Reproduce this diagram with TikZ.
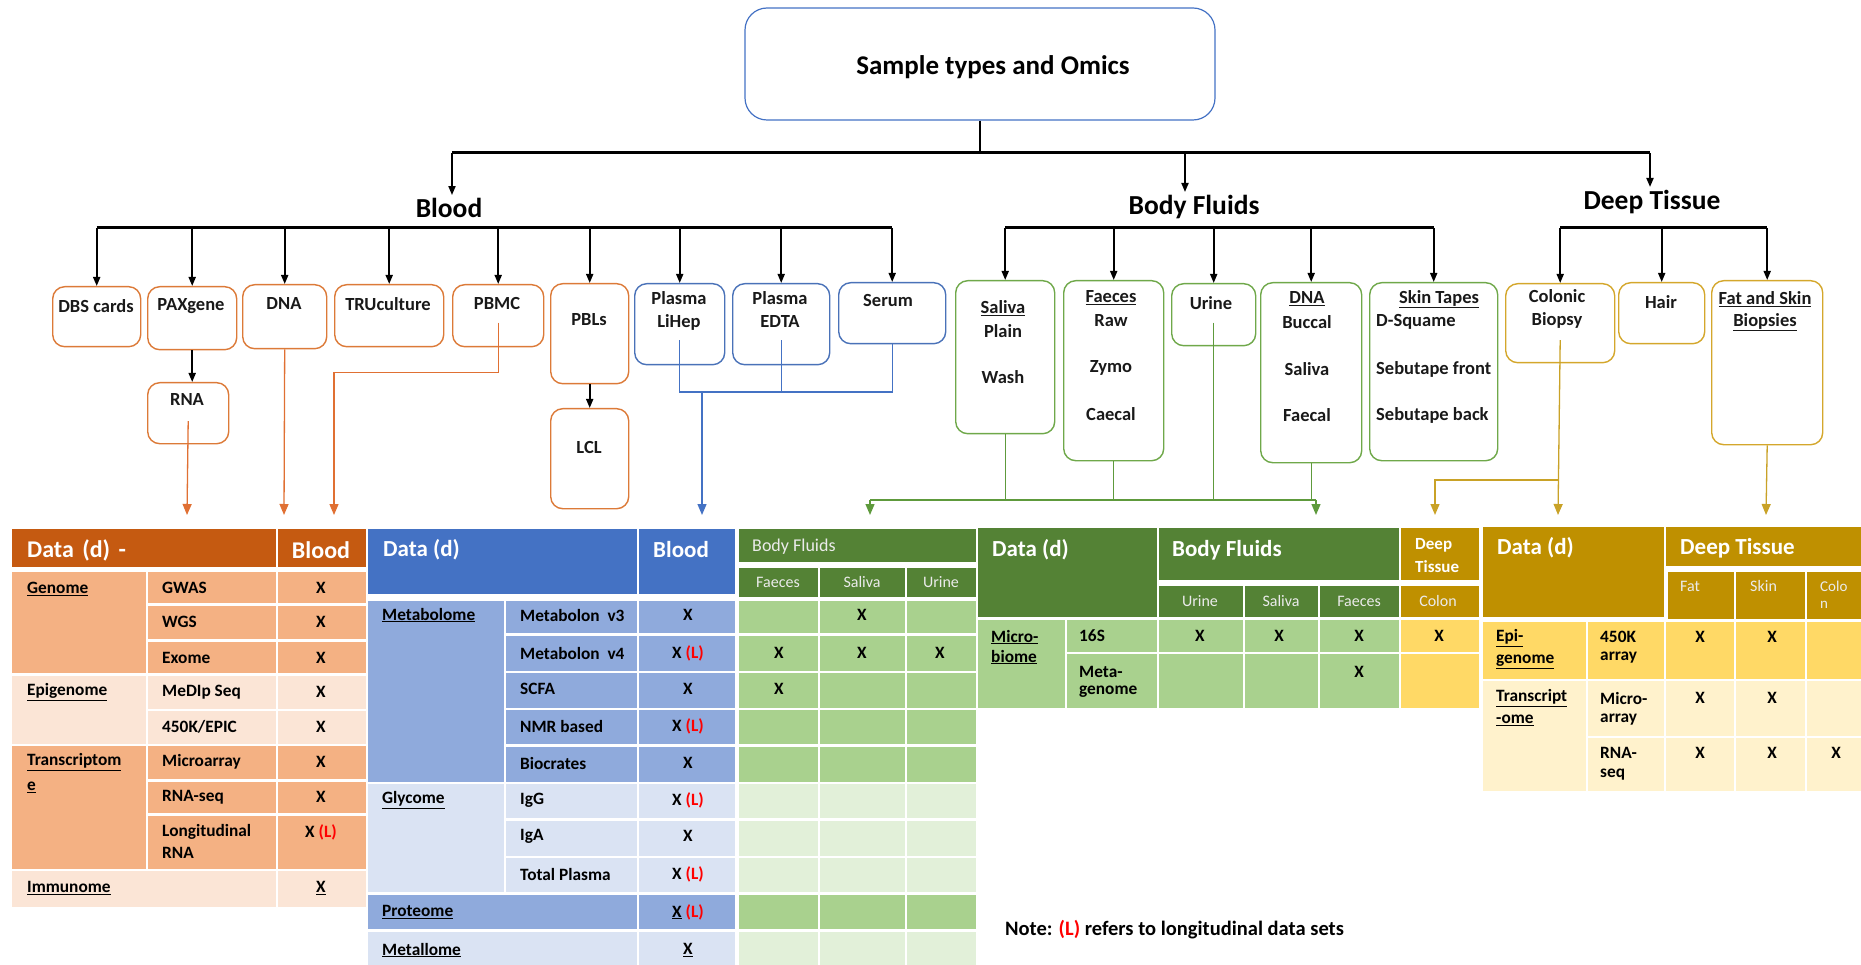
\documentclass[tikz,border=0pt]{standalone}
\usepackage{fontspec}
\setmainfont{Carlito}
\usetikzlibrary{arrows.meta}
\definecolor{cOr}{HTML}{DC7A38}
\definecolor{cOrL}{HTML}{E07033}
\definecolor{cBl}{HTML}{4A72B8}
\definecolor{cBlL}{HTML}{4472C4}
\definecolor{cGr}{HTML}{6FA84A}
\definecolor{cGrL}{HTML}{5E9A3C}
\definecolor{cGd}{HTML}{D4A72C}
\definecolor{cGdL}{HTML}{C9A227}
\definecolor{tOrH}{HTML}{C55A11}
\definecolor{tOrM}{HTML}{F4B183}
\definecolor{tOrL}{HTML}{FBE5D6}
\definecolor{tBlH}{HTML}{4472C4}
\definecolor{tBlM}{HTML}{8FAADC}
\definecolor{tBlL}{HTML}{DAE3F3}
\definecolor{tGrH}{HTML}{548235}
\definecolor{tGrM}{HTML}{A9D18E}
\definecolor{tGrL}{HTML}{E2F0D9}
\definecolor{tGdH}{HTML}{BF9000}
\definecolor{tGdM}{HTML}{FFD966}
\definecolor{tGdL}{HTML}{FFF2CC}
\newcommand\bx[6]{\node[#2, minimum width={#5-#3}, minimum height={#6-#4}] (#1) at (#3,#4) {};}
\newcommand\cel[5]{\fill[#5] (#1,#2) rectangle (#3,#4);}
\newcounter{tc}
\newcommand\tl[4][]{\stepcounter{tc}\node[#1] (t\arabic{tc}) at (#2,#3) {#4};}
\newcommand\XL{X {\color{red}(L)}}
\begin{document}
\begin{tikzpicture}[x=1pt,y=-1pt,
  boxo/.style={draw=cOr, line width=1.4pt, rounded corners=12pt, inner sep=0pt, anchor=north west},
  boxb/.style={boxo, draw=cBl},
  boxg/.style={boxo, draw=cGr},
  boxy/.style={boxo, draw=cGd},
  bt/.style={inner sep=0pt, font=\fontsize{18.5}{21}\selectfont\bfseries, text=black!90},
  btw/.style={bt, anchor=west},
  cat/.style={inner sep=3pt, font=\fontsize{27.5}{31}\selectfont\bfseries},
  tree/.style={line width=1.8pt, black},
  bar/.style={line width=3pt, black},
  tarr/.style={line width=1.8pt, black, -{Triangle[length=9pt,width=7pt]}},
  oarr/.style={draw=cOrL, line width=1.3pt, -{Triangle[length=11pt,width=9pt]}},
  barr/.style={draw=cBlL, line width=1.3pt, -{Triangle[length=11pt,width=9pt]}},
  bln/.style={draw=cBlL, line width=1.3pt},
  garr/.style={draw=cGrL, line width=1.3pt, -{Triangle[length=11pt,width=9pt]}},
  gln/.style={draw=cGrL, line width=1.3pt},
  yarr/.style={draw=cGdL, line width=1.3pt, -{Triangle[length=11pt,width=9pt]}},
  hd/.style={inner sep=0pt, anchor=west, text=white, font=\fontsize{23}{27}\selectfont\bfseries},
  hdc/.style={hd, anchor=center},
  sh/.style={inner sep=0pt, text=white!92!black, font=\fontsize{16}{19}\selectfont},
  shw/.style={sh, anchor=west},
  tb/.style={inner sep=0pt, anchor=west, font=\fontsize{17.3}{20}\selectfont\bfseries},
  tbc/.style={tb, anchor=center},
]
\useasboundingbox (0,0) rectangle (1861,965);

% ---------- title and tree ----------
\node[draw=cBlL, line width=1.2pt, rounded corners=22pt, minimum width=470, minimum height=112] (top) at (980,64) {};
\node[font=\fontsize{27}{31}\selectfont\bfseries, inner sep=0pt] (toptext) at (top.center) [xshift=13pt, yshift=-3pt] {Sample types and Omics};
\node[cat] (blood) at (449,208) {Blood};
\node[cat] (bf) at (1194,207) {Body Fluids};
\node[cat] (dt) at (1652,202) {Deep Tissue};

\coordinate (j0) at (980,153);
\coordinate (jb) at (452,153);
\coordinate (jf) at (1185,153);
\coordinate (jd) at (1650,153);
\draw[tree] (top.south) -- (j0);
\draw[bar] (jb) -- (jd);
\draw[tarr] (jb) -- (jb |- blood.north);
\draw[tarr] (jf) -- (jf |- bf.north);
\draw[tarr] (jd) -- (jd |- dt.north);

% ---------- blood boxes ----------
\bx{dbs}{boxo}{52}{286}{140}{346}
\bx{pax}{boxo}{147}{286}{236}{349}
\bx{dna}{boxo}{242}{284}{326}{348}
\bx{tru}{boxo}{334}{284}{443}{346}
\bx{pbmc}{boxo}{452}{284}{543}{346}
\bx{pbl}{boxo}{550}{283}{628}{383}
\bx{lihep}{boxb}{634}{283}{724}{364}
\bx{edta}{boxb}{732}{283}{829}{364}
\bx{serum}{boxb}{838}{282}{945}{343}
\bx{rna}{boxo}{147}{382}{228}{443}
\bx{lcl}{boxo}{550}{408}{628}{508}

\tl[bt]{96}{306}{DBS cards}
\tl[bt]{191}{306}{PAXgene}
\tl[bt]{284}{304}{DNA}
\tl[bt]{388}{304}{TRUculture}
\tl[bt]{497}{303}{PBMC}
\tl[bt]{589}{320}{PBLs}
\tl[bt]{679}{298}{Plasma}
\tl[bt]{679}{322}{LiHep}
\tl[bt]{780}{298}{Plasma}
\tl[bt]{780}{322}{EDTA}
\tl[bt]{888}{301}{Serum}
\tl[bt]{187}{400}{RNA}
\tl[bt]{589}{447}{LCL}

% ---------- body fluid and deep tissue boxes ----------
\bx{sal}{boxg}{955}{280}{1054}{433}
\bx{fae}{boxg}{1063}{280}{1163}{460}
\bx{uri}{boxg}{1171}{283}{1255}{345}
\bx{bdna}{boxg}{1260}{282}{1361}{462}
\bx{skin}{boxg}{1369}{282}{1497}{460}
\bx{col}{boxy}{1505}{283}{1614}{362}
\bx{hair}{boxy}{1618}{282}{1704}{343}
\bx{fat}{boxy}{1711}{280}{1822}{444}

\tl[bt]{1003}{308}{\underline{Saliva}}
\tl[bt]{1003}{331}{Plain}
\tl[bt]{1003}{377}{Wash}
\tl[bt]{1111}{298}{\underline{Faeces}}
\tl[bt]{1111}{321}{Raw}
\tl[bt]{1111}{368}{Zymo}
\tl[bt]{1111}{414}{Caecal}
\tl[bt]{1211}{303}{Urine}
\tl[bt]{1307}{299}{\underline{DNA}}
\tl[bt]{1307}{322}{Buccal}
\tl[bt]{1307}{369}{Saliva}
\tl[bt]{1307}{415}{Faecal}
\tl[bt]{1439}{299}{\underline{Skin Tapes}}
\tl[btw]{1376}{322}{D-Squame}
\tl[btw]{1376}{369}{Sebutape front}
\tl[btw]{1376}{415}{Sebutape back}
\tl[bt]{1557}{296}{Colonic}
\tl[bt]{1557}{320}{Biopsy}
\tl[bt]{1661}{302}{Hair}
\tl[bt]{1765}{299}{\underline{Fat and Skin}}
\tl[bt]{1765}{322}{\underline{Biopsies}}

% ---------- second level bars ----------
\coordinate (lb) at (0,228);
\draw[bar] (dbs.north |- lb) -- (serum.north |- lb);
\foreach \n in {dbs,pax,dna,tru,pbmc,pbl,lihep,edta,serum}
  \draw[tarr] (\n.north |- lb) -- (\n.north);
\draw[bar] (sal.north |- lb) -- (skin.north |- lb);
\foreach \n in {sal,fae,uri,bdna,skin}
  \draw[tarr] (\n.north |- lb) -- (\n.north);
\draw[bar] (col.north |- lb) -- (fat.north |- lb);
\foreach \n in {col,hair,fat}
  \draw[tarr] (\n.north |- lb) -- (\n.north);
\draw[tarr] (pax.south) -- (pax.south |- rna.north);
\draw[tarr] (pbl.south) -- (lcl.north);

% ---------- coloured connectors ----------
\coordinate (oa) at (187,515);
\coordinate (ob) at (284,515);
\coordinate (oc) at (334,515);
\draw[oarr] ([yshift=-8pt]rna.center) -- (oa);
\draw[oarr] (dna.south) -- (ob);
\draw[oarr] ([yshift=-7pt]pbmc.center) -- ++(0,50) -| (oc);

\coordinate (bj) at (702,392);
\coordinate (ba) at (702,515);
\draw[bln] ([yshift=-16pt]lihep.center) -- (lihep.center |- bj) -- (serum.south |- bj) -- (serum.south);
\draw[bln] ([yshift=-16pt]edta.center) -- (edta.center |- bj);
\draw[barr] (bj) -- (ba);

\coordinate (gl) at (870,500);
\coordinate (gr) at (1316,500);
\coordinate (gla) at (870,515);
\coordinate (gra) at (1316,515);
\draw[gln] (gl) -- (gr);
\draw[gln] (sal.south) -- (sal.south |- gl);
\draw[gln] (fae.south) -- (fae.south |- gl);
\draw[gln] ([yshift=-8pt]uri.center) -- (uri.center |- gl);
\draw[gln] (bdna.south) -- (bdna.south |- gl);
\draw[garr] (gl) -- (gla);
\draw[garr] (gr) -- (gra);

\coordinate (yj) at (1558,480);
\coordinate (yl) at (1435,480);
\coordinate (ya) at (1558,515);
\coordinate (yla) at (1435,515);
\coordinate (yfa) at (1766,515);
\draw[yarr] ([yshift=-17pt]col.center) -- (ya);
\draw[yarr] (yj) -- (yl) -- (yla);
\draw[yarr] (fat.south) -- (yfa);

% ---------- table 1 (blood, orange) ----------
\cel{12}{529}{276}{567}{tOrH}
\cel{278}{529}{366}{567}{tOrH}
\cel{12}{572}{146}{673}{tOrM}
\foreach \a/\b in {572/603,606/639,642/673}{\cel{148}{\a}{276}{\b}{tOrM}\cel{278}{\a}{366}{\b}{tOrM}}
\cel{12}{676}{146}{744}{tOrL}
\foreach \a/\b in {676/709,711/744}{\cel{148}{\a}{276}{\b}{tOrL}\cel{278}{\a}{366}{\b}{tOrL}}
\cel{12}{746}{146}{869}{tOrM}
\foreach \a/\b in {746/779,782/813,816/869}{\cel{148}{\a}{276}{\b}{tOrM}\cel{278}{\a}{366}{\b}{tOrM}}
\cel{12}{871}{276}{907}{tOrL}
\cel{278}{871}{366}{907}{tOrL}

\tl[hd, font=\fontsize{24}{28}\selectfont\bfseries]{27}{550}{Data\hspace{0.35em}(d)\hspace{0.35em}-}
\tl[hdc, font=\fontsize{24}{28}\selectfont\bfseries]{321}{550}{Blood}
\tl[tb]{27}{589}{\underline{Genome}}
\tl[tb]{27}{692}{\underline{Epigenome}}
\tl[tb]{27}{762}{\underline{Transcriptom}}
\tl[tb]{27}{787}{\underline{e}}
\tl[tb]{27}{888}{\underline{Immunome}}
\tl[tb]{162}{588}{GWAS}
\tl[tb]{162}{622}{WGS}
\tl[tb]{162}{658}{Exome}
\tl[tb]{162}{692}{MeDIp Seq}
\tl[tb]{162}{727}{450K/EPIC}
\tl[tb]{162}{762}{Microarray}
\tl[tb]{162}{797}{RNA-seq}
\tl[tb]{162}{832}{Longitudinal}
\tl[tb]{162}{853}{RNA}
\foreach \y in {588,622,658,692,727,762,797}{\tl[tbc]{321}{\y}{X}}
\tl[tbc]{321}{832}{\XL}
\tl[tbc]{321}{888}{\underline{X}}

% ---------- table 2 (blood blue + body fluids green) ----------
\cel{368}{529}{637}{594}{tBlH}
\cel{639}{529}{735}{594}{tBlH}
\cel{368}{601}{504}{782}{tBlM}
\foreach \a/\b in {601/633,636/671,673/708,710/744,747/782}{%
  \cel{506}{\a}{637}{\b}{tBlM}\cel{639}{\a}{735}{\b}{tBlM}%
  \cel{739}{\a}{818}{\b}{tGrM}\cel{820}{\a}{905}{\b}{tGrM}\cel{907}{\a}{976}{\b}{tGrM}}
\cel{368}{784}{504}{892}{tBlL}
\foreach \a/\b in {784/818,821/856,858/892}{%
  \cel{506}{\a}{637}{\b}{tBlL}\cel{639}{\a}{735}{\b}{tBlL}%
  \cel{739}{\a}{818}{\b}{tGrL}\cel{820}{\a}{905}{\b}{tGrL}\cel{907}{\a}{976}{\b}{tGrL}}
\cel{368}{895}{637}{929}{tBlM}\cel{639}{895}{735}{929}{tBlM}
\cel{739}{895}{818}{929}{tGrM}\cel{820}{895}{905}{929}{tGrM}\cel{907}{895}{976}{929}{tGrM}
\cel{368}{932}{637}{965}{tBlL}\cel{639}{932}{735}{965}{tBlL}
\cel{739}{932}{818}{965}{tGrL}\cel{820}{932}{905}{965}{tGrL}\cel{907}{932}{976}{965}{tGrL}
\cel{739}{529}{976}{562}{tGrH}
\cel{739}{568}{818}{597}{tGrH}\cel{820}{568}{905}{597}{tGrH}\cel{907}{568}{976}{597}{tGrH}

\tl[hd]{383}{550}{Data (d)}
\tl[hdc]{681}{550}{Blood}
\tl[shw, font=\fontsize{18}{21}\selectfont]{752}{547}{Body Fluids}
\tl[sh]{778}{582}{Faeces}
\tl[sh]{862}{582}{Saliva}
\tl[sh]{941}{582}{Urine}
\tl[tb]{382}{615}{\underline{Metabolome}}
\tl[tb]{382}{800}{\underline{Glycome}}
\tl[tb]{382}{912}{\underline{Proteome}}
\tl[tb]{382}{950}{\underline{Metallome}}
\tl[tb]{520}{615}{Metabolon\ \ v3}
\tl[tb]{520}{653}{Metabolon\ \ v4}
\tl[tb]{520}{689}{SCFA}
\tl[tb]{520}{726}{NMR based}
\tl[tb]{520}{763}{Biocrates}
\tl[tb]{520}{800}{IgG}
\tl[tb]{520}{836}{IgA}
\tl[tb]{520}{874}{Total Plasma}
\foreach \y in {615,689,763,836}{\tl[tbc]{688}{\y}{X}}
\foreach \y in {653,726,800,874}{\tl[tbc]{688}{\y}{\XL}}
\tl[tbc]{688}{912}{\underline{X} {\color{red}(L)}}
\tl[tbc]{688}{950}{\underline{X}}
\tl[tbc]{862}{615}{X}
\tl[tbc]{779}{653}{X}
\tl[tbc]{862}{653}{X}
\tl[tbc]{940}{653}{X}
\tl[tbc]{779}{689}{X}

% ---------- table 3 (microbiome) ----------
\cel{978}{528}{1157}{617}{tGrH}
\cel{1159}{528}{1399}{580}{tGrH}
\cel{1159}{586}{1243}{617}{tGrH}\cel{1245}{586}{1318}{617}{tGrH}\cel{1320}{586}{1399}{617}{tGrH}
\cel{1401}{528}{1479}{580}{tGdH}\cel{1401}{586}{1479}{617}{tGdH}
\cel{978}{620}{1065}{708}{tGrM}
\foreach \a/\b in {620/652,654/708}{%
  \cel{1067}{\a}{1157}{\b}{tGrM}\cel{1159}{\a}{1243}{\b}{tGrM}\cel{1245}{\a}{1318}{\b}{tGrM}%
  \cel{1320}{\a}{1399}{\b}{tGrM}\cel{1401}{\a}{1479}{\b}{tGdM}}

\tl[hd]{992}{550}{Data (d)}
\tl[hd]{1172}{550}{Body Fluids}
\tl[hd, font=\fontsize{17}{20}\selectfont\bfseries]{1415}{545}{Deep}
\tl[hd, font=\fontsize{17}{20}\selectfont\bfseries]{1415}{567}{Tissue}
\tl[sh]{1200}{601}{Urine}
\tl[sh]{1281}{601}{Saliva}
\tl[sh]{1359}{601}{Faeces}
\tl[sh]{1438}{601}{Colon}
\tl[tb]{991}{637}{\underline{Micro-}}
\tl[tb]{991}{657}{\underline{biome}}
\tl[tb]{1079}{636}{16S}
\tl[tb]{1079}{672}{Meta-}
\tl[tb]{1079}{692}{genome}
\tl[tbc]{1200}{636}{X}
\tl[tbc]{1279}{636}{X}
\tl[tbc]{1359}{636}{X}
\tl[tbc]{1439}{636}{X}
\tl[tbc]{1359}{672}{X}

% ---------- table 4 (deep tissue) ----------
\cel{1483}{527}{1664}{617}{tGdH}
\cel{1666}{527}{1861}{566}{tGdH}
\cel{1668}{572}{1734}{619}{tGdH}\cel{1736}{572}{1805}{619}{tGdH}\cel{1807}{572}{1861}{619}{tGdH}
\cel{1483}{622}{1586}{679}{tGdM}
\cel{1588}{622}{1664}{679}{tGdM}\cel{1666}{622}{1734}{679}{tGdM}\cel{1736}{622}{1805}{679}{tGdM}\cel{1807}{622}{1861}{679}{tGdM}
\cel{1483}{681}{1586}{791}{tGdL}
\foreach \a/\b in {681/736,738/791}{%
  \cel{1588}{\a}{1664}{\b}{tGdL}\cel{1666}{\a}{1734}{\b}{tGdL}\cel{1736}{\a}{1805}{\b}{tGdL}\cel{1807}{\a}{1861}{\b}{tGdL}}

\tl[hd]{1497}{548}{Data (d)}
\tl[hd]{1680}{548}{Deep Tissue}
\tl[shw]{1680}{586}{Fat}
\tl[shw]{1750}{586}{Skin}
\tl[shw, font=\fontsize{15}{18}\selectfont]{1820}{586}{Colo}
\tl[shw, font=\fontsize{15}{18}\selectfont]{1820}{605}{n}
\tl[tb]{1496}{638}{\underline{Epi-}}
\tl[tb]{1496}{662}{\underline{genome}}
\tl[tb]{1600}{637}{450K}
\tl[tb]{1600}{658}{array}
\tl[tb]{1496}{698}{\underline{Transcript}}
\tl[tb]{1496}{720}{\underline{-ome}}
\tl[tb]{1600}{698}{Micro-}
\tl[tb]{1600}{720}{array}
\tl[tb]{1600}{753}{RNA-}
\tl[tb]{1600}{775}{seq}
\tl[tbc]{1700}{637}{X}
\tl[tbc]{1772}{637}{X}
\tl[tbc]{1700}{698}{X}
\tl[tbc]{1772}{698}{X}
\tl[tbc]{1700}{753}{X}
\tl[tbc]{1772}{753}{X}
\tl[tbc]{1836}{753}{X}

% ---------- note ----------
\tl[tb, font=\fontsize{20.5}{24}\selectfont\bfseries]{1005}{930}{Note: {\color{red}(L)} refers to longitudinal data sets}
\end{tikzpicture}
\end{document}
